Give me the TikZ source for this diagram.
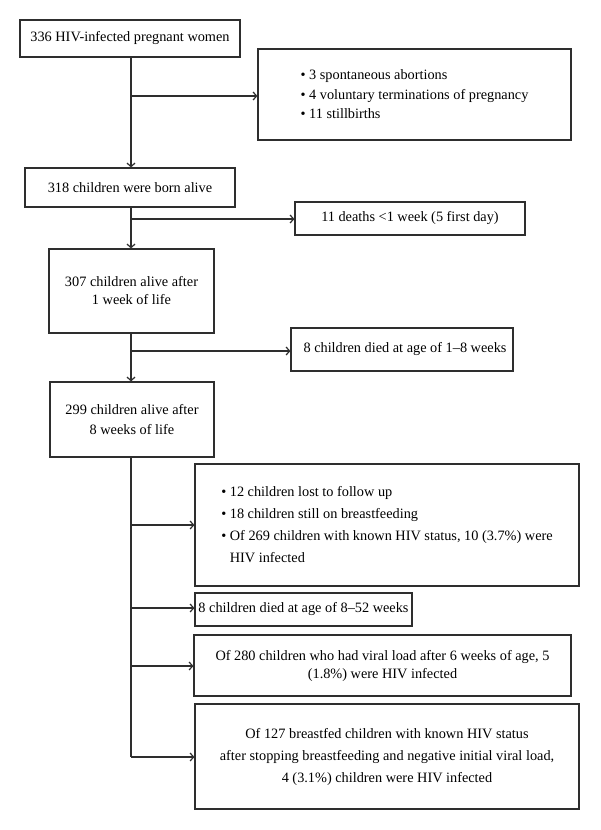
\documentclass[tikz,border=0pt]{standalone}
\usepackage{fontspec}
\setmainfont{Liberation Serif}
\usetikzlibrary{arrows.meta}
\definecolor{linec}{HTML}{2E2E2E}
\begin{document}
\begin{tikzpicture}[x=1pt,y=-1pt,
  box/.style={draw=linec, line width=1.2pt, inner sep=0pt, font=\fontsize{14.3}{19}\selectfont},
  conn/.style={draw=linec, line width=1.2pt},
  arr/.style={conn, -{Straight Barb[length=3.5pt,width=8pt]}}]
\useasboundingbox (0,0) rectangle (600,830);
\fill[white] (0,0) rectangle (600,830);
\node[box, minimum width=220pt, minimum height=37pt] (n1) at (130,38.5) {336 HIV-infected pregnant women};
\node[box, minimum width=313pt, minimum height=91pt, align=left, font=\fontsize{14.3}{19.5}\selectfont] (n2) at (414.5,94.5)
  {\textbullet\ 3 spontaneous abortions\\ \textbullet\ 4 voluntary terminations of pregnancy\\ \textbullet\ 11 stillbirths};
\node[box, minimum width=210pt, minimum height=39pt] (n3) at (130,187.5) {318 children were born alive};
\node[box, minimum width=230pt, minimum height=33pt] (n4) at (410,218.5) {11 deaths <1 week (5 first day)};
\node[box, minimum width=165pt, minimum height=84pt, align=center, font=\fontsize{14.3}{18}\selectfont] (n5) at (131.5,291) {307 children alive after\\1 week of life};
\node[box, minimum width=222pt, minimum height=43pt] (n6) at (402,349.5) {\hspace{6pt}8 children died at age of 1–8 weeks};
\node[box, minimum width=164pt, minimum height=75pt, align=center, font=\fontsize{14.3}{20}\selectfont] (n7) at (132,419.5) {299 children alive after\\8 weeks of life};
\node[box, minimum width=384pt, minimum height=122pt, align=left, font=\fontsize{14.3}{22}\selectfont] (n8) at (387,525)
  {\textbullet\ 12 children lost to follow up\\ \textbullet\ 18 children still on breastfeeding\\ \textbullet\ Of 269 children with known HIV status, 10 (3.7\%) were\\ \phantom{\textbullet\ }HIV infected};
\node[box, minimum width=217pt, minimum height=33pt] (n9) at (303.5,609.5) {8 children died at age of 8–52 weeks};
\node[box, minimum width=377pt, minimum height=61pt, align=center, font=\fontsize{14.3}{18}\selectfont] (n10) at (382.5,665.5)
  {Of 280 children who had viral load after 6 weeks of age, 5\\(1.8\%) were HIV infected};
\node[box, minimum width=384pt, minimum height=105pt, align=center, font=\fontsize{14.3}{22}\selectfont] (n11) at (387,756.5)
  {Of 127 breastfed children with known HIV status\\after stopping breastfeeding and negative initial viral load,\\4 (3.1\%) children were HIV infected};
\coordinate (c1) at (131,96);
\coordinate (c3) at (131,219);
\coordinate (c5) at (131,351);
\coordinate (c8) at (131,525);
\coordinate (c9) at (131,608);
\coordinate (c10) at (131,666);
\coordinate (c11) at (131,757);
\draw[arr] (n1.south -| c1) -- (n3.north -| c1);
\draw[arr] (c1) -- (c1 -| n2.west);
\draw[arr] (n3.south -| c3) -- (n5.north -| c3);
\draw[arr] (c3) -- (c3 -| n4.west);
\draw[arr] (n5.south -| c5) -- (n7.north -| c5);
\draw[arr] (c5) -- (c5 -| n6.west);
\draw[conn] (n7.south -| c8) -- (c11);
\draw[arr] (c8) -- (c8 -| n8.west);
\draw[arr] (c9) -- (c9 -| n9.west);
\draw[arr] (c10) -- (c10 -| n10.west);
\draw[arr] (c11) -- (c11 -| n11.west);
\end{tikzpicture}
\end{document}
